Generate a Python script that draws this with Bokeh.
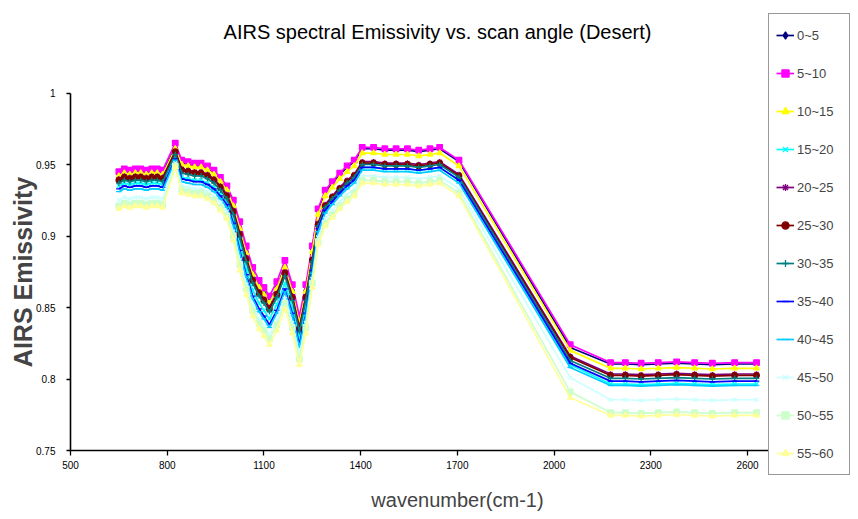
from bokeh.plotting import figure
from bokeh.models import Range1d, FixedTicker, Legend, LegendItem, Label
from bokeh.embed import file_html
from bokeh.resources import INLINE

# ---------------- data ----------------
wavenumber = [650, 667, 684, 701, 718, 735, 752, 769, 786, 825,
              845, 865, 885, 905, 925, 945, 965, 985, 1005,
              1025, 1045, 1065, 1085, 1100, 1117, 1140, 1165, 1188, 1210, 1230, 1250,
              1268, 1290, 1312, 1335, 1358, 1380, 1405, 1440, 1475, 1510, 1545, 1580, 1615, 1645, 1705,
              2050, 2175, 2221, 2270, 2323, 2380, 2436, 2491, 2560, 2628]

e_0_5 = [0.943, 0.945, 0.944, 0.945, 0.945, 0.944, 0.945, 0.945, 0.944, 0.962,
         0.951, 0.950, 0.949, 0.949, 0.947, 0.944, 0.939, 0.933, 0.922,
         0.906, 0.889, 0.874, 0.865, 0.860, 0.854, 0.864, 0.879, 0.862, 0.840, 0.862, 0.891,
         0.918, 0.931, 0.937, 0.943, 0.948, 0.952, 0.961, 0.961, 0.960, 0.960, 0.960, 0.959, 0.960, 0.961, 0.952,
         0.822, 0.8105, 0.8105, 0.810, 0.8105, 0.811, 0.8105, 0.810, 0.8105, 0.8105]

e_5_10 = [0.945, 0.947, 0.946, 0.947, 0.947, 0.946, 0.947, 0.947, 0.946, 0.965,
          0.953, 0.952, 0.951, 0.951, 0.949, 0.946, 0.941, 0.935, 0.925,
          0.910, 0.893, 0.878, 0.869, 0.864, 0.858, 0.868, 0.883, 0.866, 0.844, 0.866, 0.893,
          0.919, 0.932, 0.938, 0.944, 0.949, 0.953, 0.962, 0.962, 0.961, 0.961, 0.961, 0.960, 0.961, 0.962, 0.953,
          0.824, 0.8115, 0.8115, 0.811, 0.8115, 0.812, 0.8115, 0.811, 0.8115, 0.8115]

e_10_15 = [0.942, 0.944, 0.943, 0.944, 0.944, 0.943, 0.944, 0.944, 0.943, 0.961,
           0.950, 0.949, 0.948, 0.948, 0.946, 0.943, 0.938, 0.932, 0.921,
           0.905, 0.888, 0.873, 0.864, 0.859, 0.853, 0.863, 0.878, 0.861, 0.839, 0.861, 0.889,
           0.915, 0.928, 0.934, 0.940, 0.945, 0.949, 0.958, 0.958, 0.957, 0.957, 0.957, 0.956, 0.957, 0.958, 0.949,
           0.820, 0.8075, 0.8075, 0.807, 0.8075, 0.808, 0.8075, 0.807, 0.8075, 0.8075]

e_15_20 = [0.935, 0.937, 0.936, 0.937, 0.937, 0.936, 0.937, 0.937, 0.936, 0.955,
           0.941, 0.940, 0.939, 0.939, 0.937, 0.934, 0.929, 0.923, 0.911,
           0.894, 0.877, 0.862, 0.853, 0.848, 0.842, 0.852, 0.867, 0.850, 0.828, 0.850, 0.878,
           0.905, 0.918, 0.924, 0.930, 0.935, 0.939, 0.948, 0.948, 0.947, 0.947, 0.947, 0.946, 0.947, 0.948, 0.939,
           0.810, 0.7965, 0.7965, 0.796, 0.7965, 0.797, 0.7965, 0.796, 0.7965, 0.7965]

e_20_25 = [0.940, 0.942, 0.941, 0.942, 0.942, 0.941, 0.942, 0.942, 0.941, 0.959,
           0.947, 0.946, 0.945, 0.945, 0.943, 0.940, 0.935, 0.929, 0.918,
           0.902, 0.885, 0.870, 0.861, 0.856, 0.850, 0.860, 0.875, 0.858, 0.836, 0.858, 0.884,
           0.909, 0.922, 0.928, 0.934, 0.939, 0.943, 0.952, 0.952, 0.951, 0.951, 0.951, 0.950, 0.951, 0.952, 0.943,
           0.816, 0.8035, 0.8035, 0.803, 0.8035, 0.804, 0.8035, 0.803, 0.8035, 0.8035]

e_25_30 = [0.939, 0.941, 0.940, 0.941, 0.941, 0.940, 0.941, 0.941, 0.940, 0.959,
           0.946, 0.945, 0.944, 0.944, 0.942, 0.939, 0.934, 0.928, 0.917,
           0.901, 0.884, 0.869, 0.860, 0.855, 0.849, 0.859, 0.874, 0.857, 0.835, 0.857, 0.883,
           0.908, 0.921, 0.927, 0.933, 0.938, 0.942, 0.951, 0.951, 0.950, 0.950, 0.950, 0.949, 0.950, 0.951, 0.942,
           0.815, 0.8025, 0.8025, 0.802, 0.8025, 0.803, 0.8025, 0.802, 0.8025, 0.8025]

e_30_35 = [0.937, 0.939, 0.938, 0.939, 0.939, 0.938, 0.939, 0.939, 0.938, 0.957,
           0.944, 0.943, 0.942, 0.942, 0.940, 0.937, 0.932, 0.926, 0.915,
           0.899, 0.882, 0.867, 0.858, 0.853, 0.847, 0.857, 0.872, 0.855, 0.833, 0.855, 0.882,
           0.907, 0.920, 0.926, 0.932, 0.937, 0.941, 0.950, 0.950, 0.949, 0.949, 0.949, 0.948, 0.949, 0.950, 0.941,
           0.813, 0.8005, 0.8005, 0.800, 0.8005, 0.801, 0.8005, 0.800, 0.8005, 0.8005]

e_35_40 = [0.933, 0.935, 0.934, 0.935, 0.935, 0.934, 0.935, 0.935, 0.934, 0.954,
           0.940, 0.939, 0.938, 0.938, 0.936, 0.933, 0.928, 0.922, 0.909,
           0.890, 0.873, 0.858, 0.849, 0.844, 0.838, 0.848, 0.863, 0.846, 0.824, 0.846, 0.876,
           0.905, 0.918, 0.924, 0.930, 0.935, 0.939, 0.948, 0.948, 0.947, 0.947, 0.947, 0.946, 0.947, 0.948, 0.939,
           0.811, 0.7985, 0.7985, 0.798, 0.7985, 0.799, 0.7985, 0.798, 0.7985, 0.7985]

e_40_45 = [0.931, 0.933, 0.932, 0.933, 0.933, 0.932, 0.933, 0.933, 0.932, 0.953,
           0.938, 0.937, 0.936, 0.936, 0.934, 0.931, 0.926, 0.920, 0.907,
           0.888, 0.871, 0.856, 0.847, 0.842, 0.836, 0.846, 0.861, 0.844, 0.822, 0.844, 0.874,
           0.903, 0.916, 0.922, 0.928, 0.933, 0.937, 0.946, 0.946, 0.945, 0.945, 0.945, 0.944, 0.945, 0.946, 0.937,
           0.808, 0.7955, 0.7955, 0.795, 0.7955, 0.796, 0.7955, 0.795, 0.7955, 0.7955]

e_45_50 = [0.925, 0.927, 0.926, 0.927, 0.927, 0.926, 0.927, 0.927, 0.926, 0.951,
           0.935, 0.934, 0.933, 0.933, 0.931, 0.928, 0.923, 0.917, 0.903,
           0.883, 0.866, 0.851, 0.842, 0.837, 0.831, 0.841, 0.856, 0.839, 0.817, 0.839, 0.870,
           0.899, 0.912, 0.918, 0.924, 0.929, 0.933, 0.942, 0.942, 0.941, 0.941, 0.941, 0.940, 0.941, 0.942, 0.933,
           0.801, 0.7855, 0.7855, 0.785, 0.7855, 0.786, 0.7855, 0.785, 0.7855, 0.7855]

e_50_55 = [0.921, 0.923, 0.922, 0.923, 0.923, 0.922, 0.923, 0.923, 0.922, 0.949,
           0.932, 0.931, 0.930, 0.930, 0.928, 0.925, 0.920, 0.914, 0.900,
           0.880, 0.863, 0.848, 0.839, 0.834, 0.828, 0.838, 0.853, 0.836, 0.814, 0.836, 0.867,
           0.896, 0.909, 0.915, 0.921, 0.926, 0.930, 0.939, 0.939, 0.938, 0.938, 0.938, 0.937, 0.938, 0.939, 0.930,
           0.791, 0.7765, 0.7765, 0.776, 0.7765, 0.777, 0.7765, 0.776, 0.7765, 0.7765]

e_55_60 = [0.919, 0.921, 0.920, 0.921, 0.921, 0.920, 0.921, 0.921, 0.920, 0.948,
           0.930, 0.929, 0.928, 0.928, 0.926, 0.923, 0.918, 0.912, 0.897,
           0.876, 0.859, 0.844, 0.835, 0.830, 0.824, 0.834, 0.849, 0.832, 0.810, 0.832, 0.864,
           0.894, 0.907, 0.913, 0.919, 0.924, 0.928, 0.937, 0.937, 0.936, 0.936, 0.936, 0.935, 0.936, 0.937, 0.928,
           0.787, 0.7745, 0.7745, 0.774, 0.7745, 0.775, 0.7745, 0.774, 0.7745, 0.7745]

scan_angles = ["0~5", "5~10", "10~15", "15~20", "20~25", "25~30",
               "30~35", "35~40", "40~45", "45~50", "50~55", "55~60"]
series = [e_0_5, e_5_10, e_10_15, e_15_20, e_20_25, e_25_30,
          e_30_35, e_35_40, e_40_45, e_45_50, e_50_55, e_55_60]

x_ticks = [500, 800, 1100, 1400, 1700, 2000, 2300, 2600]
x_tick_labels = ["500", "800", "1100", "1400", "1700", "2000", "2300", "2600"]
y_ticks = [0.75, 0.8, 0.85, 0.9, 0.95, 1.0]
y_tick_labels = ["0.75", "0.8", "0.85", "0.9", "0.95", "1"]

# ---------------- styles / layout ----------------
colors = ["#000080", "#FF00FF", "#FFFF00", "#00FFFF", "#800080", "#800000",
          "#008080", "#0000FF", "#00CCFF", "#CCFFFF", "#CCFFCC", "#FFFF99"]
markers = ["diamond", "square", "triangle", "x", "asterisk", "circle",
           "cross", "dash", "dash", "x", "square", "triangle"]

NARROW = "'Liberation Sans Narrow', 'Arial Narrow', 'Liberation Sans', sans-serif"
SANS = "'Liberation Sans', Arial, sans-serif"

W, H = 858, 519
AX_X, AX_Y = 70.0, 450.0          # pixel position of the axes' origin
PX_PER_WN = 0.3224                # pixels per cm-1
PX_PER_E = 1430.0                 # pixels per emissivity unit
x_lo = 500 - AX_X / PX_PER_WN
x_hi = 500 + (W - AX_X) / PX_PER_WN
y_lo = 0.75 - (H - AX_Y) / PX_PER_E
y_hi = 0.75 + AX_Y / PX_PER_E

p = figure(width=W, height=H, output_backend="svg", toolbar_location=None,
           x_range=Range1d(x_lo, x_hi), y_range=Range1d(y_lo, y_hi),
           min_border=0)
p.outline_line_color = None
p.xgrid.grid_line_color = None
p.ygrid.grid_line_color = None
p.background_fill_color = "white"
p.border_fill_color = "white"

items = []
for name, ys, c, m in zip(scan_angles, series, colors, markers):
    lr = p.line(wavenumber, ys, line_color=c, line_width=1.7)
    sr = p.scatter(wavenumber, ys, marker=m, size=5.5, line_color=c, fill_color=c, line_width=1.3)
    items.append(LegendItem(label=name, renderers=[lr, sr]))

# axes (placed at fixed data locations so the frame can fill the canvas)
for ax in (p.xaxis[0], p.yaxis[0]):
    ax.axis_line_color = "black"
    ax.axis_line_width = 1.6
    ax.major_tick_line_color = "black"
    ax.major_tick_line_width = 1.3
    ax.major_tick_in = 0
    ax.minor_tick_line_color = None
    ax.major_label_text_font = NARROW
    ax.major_label_text_font_size = "10px"
    ax.major_label_text_color = "black"

p.xaxis.fixed_location = 0.75
p.xaxis.bounds = (500, 2900)
p.xaxis.ticker = FixedTicker(ticks=x_ticks)
p.xaxis.major_label_overrides = dict(zip(x_ticks, x_tick_labels))
p.xaxis.major_tick_out = 5
p.xaxis.major_label_standoff = 5
p.xaxis.axis_label = "wavenumber(cm-1)"
p.xaxis.axis_label_text_font = SANS
p.xaxis.axis_label_text_font_style = "normal"
p.xaxis.axis_label_text_font_size = "20px"
p.xaxis.axis_label_standoff = 17

p.yaxis.fixed_location = 500
p.yaxis.bounds = (0.75, 1.0)
p.yaxis.ticker = FixedTicker(ticks=y_ticks)
p.yaxis.major_label_overrides = dict(zip(y_ticks, y_tick_labels))
p.yaxis.major_tick_out = 4
p.yaxis.major_label_standoff = 11
p.yaxis.axis_label = "AIRS Emissivity"
p.yaxis.axis_label_text_font = SANS
p.yaxis.axis_label_text_font_style = "bold"
p.yaxis.axis_label_text_font_size = "25px"
p.yaxis.axis_label_standoff = -4

legend = Legend(items=items, location=(768, H - 475), orientation="vertical",
                padding=7, spacing=10, margin=0,
                glyph_width=18, glyph_height=28, label_standoff=3, label_width=45,
                label_height=28,
                label_text_font=NARROW, label_text_font_size="13px",
                border_line_color="#333333", border_line_width=1,
                background_fill_color="white", background_fill_alpha=1.0)
p.add_layout(legend)

title = Label(x=437, y=H - 31, x_units="screen", y_units="screen",
              text="AIRS spectral Emissivity vs. scan angle (Desert)",
              text_font=SANS, text_font_size="20px", text_font_style="normal",
              text_align="center", text_baseline="middle", text_color="black")
p.add_layout(title)

open("out.html", "w").write(file_html(p, INLINE))
